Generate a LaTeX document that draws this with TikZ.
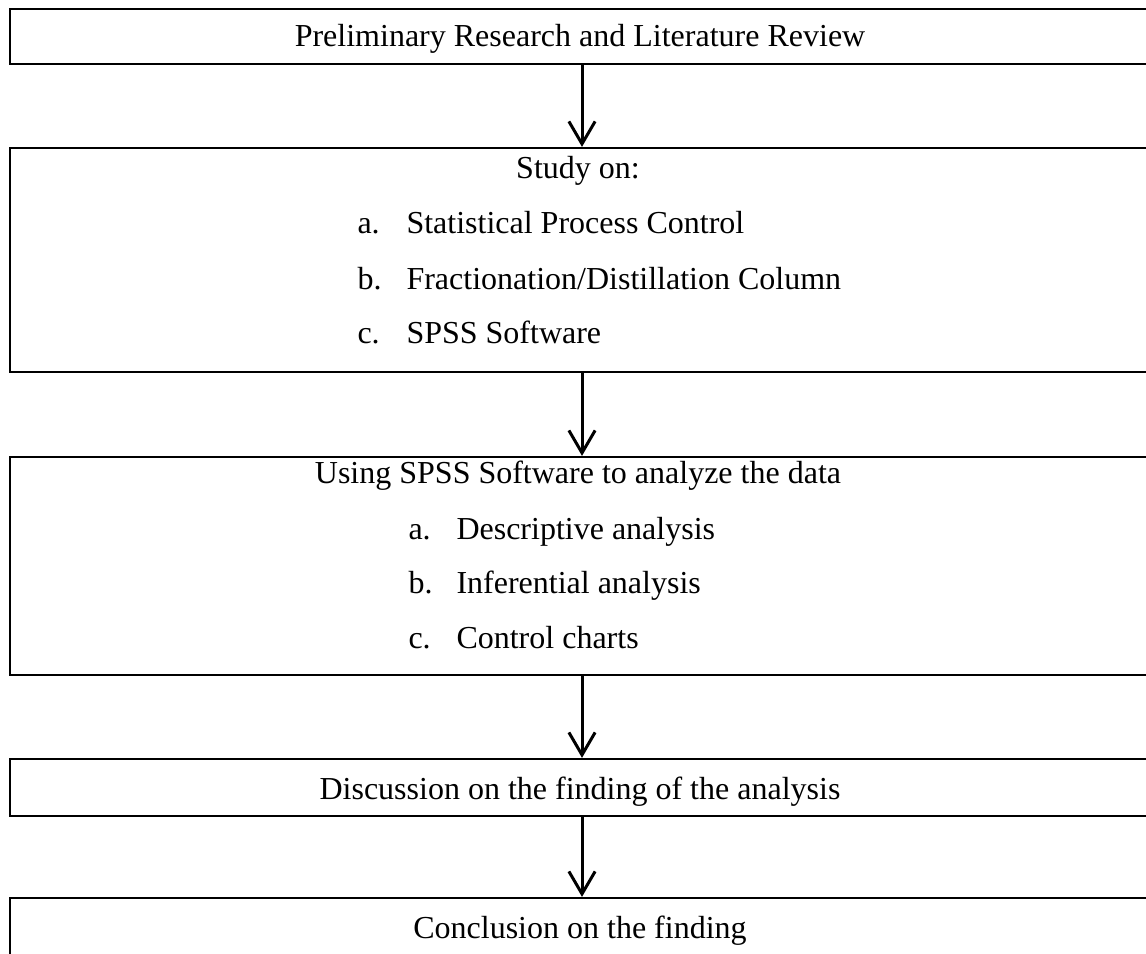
\documentclass[tikz,border=0pt]{standalone}
\usepackage{fontspec}
\setmainfont{Liberation Serif}
\usepackage{tikz}
\usetikzlibrary{arrows.meta}
\usetikzlibrary{positioning}
\tikzset{stage/.style = {draw, line width=0.9pt, rectangle, inner sep=0, minimum width=457.6pt}}
\tikzset{arr/.style = {line width=1.2pt, -{Straight Barb[length=9pt,width=10.5pt,line width=1.2pt]}}}
\tikzset{txt/.style = {anchor=base, inner sep=0, font=\fontsize{12.8pt}{15pt}\selectfont}}
\tikzset{item/.style = {anchor=base west, inner sep=0, font=\fontsize{12.8pt}{15pt}\selectfont}}

\begin{document}
\begin{tikzpicture}[x=0.4pt, y=-0.4pt]
        \useasboundingbox (0,0) rectangle (1146,953);
        \clip (0,0) rectangle (1146,953);
        % boxes
        \node [stage, minimum height=22pt] (box1) at (582,36.5) {};
        \node [stage, minimum height=89.6pt] (box2) at (582,260) {};
        \node [stage, minimum height=87.2pt] (box3) at (582,566) {};
        \node [stage, minimum height=22.8pt] (box4) at (582,787.5) {};
        \node [stage, minimum height=44.8pt] (box5) at (582,954) {};
        % texts
        \node [txt] (t1) at (580,46) {Preliminary Research and Literature Review};
        \node [txt] (t2) at (578,178) {Study on:};
        \node [item] (l2a) at (357,233) {a.};
        \node [item] (i2a) at (406,233) {Statistical Process Control};
        \node [item] (l2b) at (357,289) {b.};
        \node [item] (i2b) at (406,289) {Fractionation/Distillation Column};
        \node [item] (l2c) at (357,343) {c.};
        \node [item] (i2c) at (406,343) {SPSS Software};
        \node [txt] (t3) at (578,483) {Using SPSS Software to analyze the data};
        \node [item] (l3a) at (408,539) {a.};
        \node [item] (i3a) at (456,539) {Descriptive analysis};
        \node [item] (l3b) at (408,593) {b.};
        \node [item] (i3b) at (456,593) {Inferential analysis};
        \node [item] (l3c) at (408,648) {c.};
        \node [item] (i3c) at (456,648) {Control charts};
        \node [txt] (t4) at (580,799) {Discussion on the finding of the analysis};
        \node [txt] (t5) at (580,938) {Conclusion on the finding};
        % arrows
        \draw [arr] (box1.south) -- (box2.north);
        \draw [arr] (box2.south) -- (box3.north);
        \draw [arr] (box3.south) -- (box4.north);
        \draw [arr] (box4.south) -- (box5.north);
\end{tikzpicture}
\end{document}
